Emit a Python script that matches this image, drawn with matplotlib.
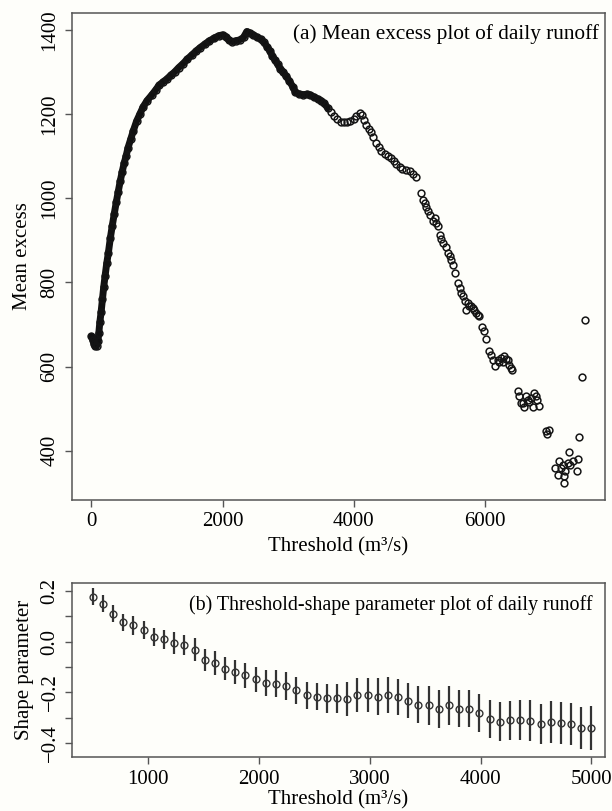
import numpy as np
import matplotlib
matplotlib.use("Agg")
import matplotlib.pyplot as plt

plt.rcParams['font.family'] = ['Liberation Serif', 'DejaVu Serif']

# (a) mean excess plot
thresh_a = [0, 20, 40, 60, 80, 100, 115, 130, 150, 170, 190, 210, 235, 260, 290,
            320, 350, 380, 410, 440, 470, 500, 530, 560, 600, 640, 690, 740, 790,
            850, 920, 980, 1030, 1090, 1150, 1210, 1270, 1330, 1400, 1460, 1530,
            1600, 1660, 1730, 1800, 1870, 1940, 2000, 2050, 2100, 2150, 2200, 2260,
            2320, 2370, 2420, 2470, 2530, 2580, 2630, 2680, 2720, 2760, 2800, 2840,
            2880, 2920, 2970, 3020, 3070, 3110, 3160, 3230, 3290, 3340, 3400, 3450,
            3500, 3550, 3600,
            3650, 3700, 3750, 3800, 3850, 3900, 3950, 4000, 4040, 4090, 4120, 4150,
            4190, 4230, 4260, 4300, 4340, 4380, 4420, 4470, 4520, 4570, 4610, 4650,
            4700, 4740, 4790, 4850, 4900, 4950,
            5029, 5053, 5080, 5104, 5130, 5155, 5206, 5231, 5260, 5282, 5307, 5330,
            5358, 5409, 5434, 5460, 5485, 5510, 5536, 5586, 5612, 5640, 5662, 5688,
            5713, 5738, 5760, 5789, 5815, 5840, 5865, 5890, 5916, 5957, 5982, 6018,
            6068, 6094, 6119, 6160, 6195, 6220, 6246, 6270, 6297, 6320, 6347, 6373,
            6398, 6413, 6499, 6525, 6550, 6575, 6601, 6627, 6650, 6677, 6700, 6728,
            6753, 6779, 6800, 6829, 6931, 6941, 6972, 7074, 7109, 7135, 7160, 7185,
            7206, 7210, 7226, 7262, 7277, 7300, 7338, 7399, 7419, 7429, 7480, 7520]
mean_excess = [672, 664, 654, 648, 649, 660, 680, 705, 730, 760, 790, 815, 845, 870, 905,
               935, 963, 990, 1015, 1040, 1062, 1083, 1100, 1120, 1140, 1160, 1183, 1200, 1217,
               1232, 1245, 1257, 1268, 1276, 1283, 1292, 1300, 1310, 1320, 1330, 1340,
               1350, 1358, 1366, 1374, 1380, 1386, 1388, 1384, 1375, 1372, 1374, 1376,
               1382, 1396, 1392, 1388, 1382, 1378, 1370, 1360, 1350, 1338, 1328, 1318,
               1308, 1300, 1290, 1278, 1265, 1252, 1248, 1246, 1247, 1245, 1240, 1236,
               1232, 1225, 1215,
               1205, 1195, 1188, 1182, 1180, 1181, 1183, 1188, 1195, 1202, 1198, 1185,
               1175, 1165, 1158, 1145, 1132, 1122, 1113, 1105, 1100, 1096, 1088, 1082,
               1075, 1070, 1066, 1065, 1058, 1050,
               1012, 996, 988, 980, 970, 961, 945, 953, 940, 933, 913, 903,
               893, 885, 870, 862, 854, 842, 822, 798, 787, 775, 767, 755,
               735, 751, 745, 743, 740, 735, 727, 722, 719, 695, 684, 665,
               636, 628, 616, 602, 616, 610, 620, 612, 624, 618, 616, 604,
               597, 591, 541, 529, 513, 513, 505, 529, 520, 517, 525, 505,
               537, 529, 520, 507, 446, 440, 450, 359, 343, 375, 359, 365,
               323, 339, 353, 371, 397, 365, 375, 353, 381, 433, 575, 711]

# (b) threshold - shape parameter plot
thresh_b = [500, 592, 684, 776, 867, 959, 1051, 1143, 1235, 1327, 1418, 1510, 1602,
            1694, 1786, 1878, 1969, 2061, 2153, 2245, 2337, 2429, 2520, 2612, 2704,
            2796, 2888, 2980, 3071, 3163, 3255, 3347, 3439, 3531, 3622, 3714, 3806,
            3898, 3990, 4082, 4173, 4265, 4357, 4449, 4541, 4633, 4724, 4816, 4908, 5000]
shape = [0.178, 0.150, 0.110, 0.077, 0.065, 0.046, 0.018, 0.010, -0.005, -0.014,
         -0.031, -0.071, -0.084, -0.106, -0.120, -0.133, -0.149, -0.162, -0.166, -0.176,
         -0.191, -0.212, -0.217, -0.224, -0.224, -0.227, -0.212, -0.210, -0.217, -0.210,
         -0.220, -0.233, -0.248, -0.251, -0.264, -0.251, -0.264, -0.265, -0.282, -0.306,
         -0.315, -0.310, -0.310, -0.311, -0.324, -0.318, -0.319, -0.324, -0.341, -0.341]
shape_ci = [0.033, 0.034, 0.033, 0.034, 0.038, 0.037, 0.036, 0.038, 0.042, 0.040,
            0.045, 0.044, 0.046, 0.047, 0.048, 0.050, 0.051, 0.052, 0.053, 0.055,
            0.053, 0.052, 0.054, 0.056, 0.057, 0.066, 0.067, 0.068, 0.072, 0.071,
            0.071, 0.069, 0.072, 0.077, 0.075, 0.076, 0.072, 0.073, 0.074, 0.075,
            0.076, 0.077, 0.078, 0.079, 0.078, 0.083, 0.083, 0.082, 0.084, 0.086]

bg = '#fefefa'
fs = 15
W, H = 612, 811
fig = plt.figure(figsize=(W / 100, H / 100), dpi=100, facecolor=bg)


def style(ax):
    ax.set_facecolor(bg)
    for s in ax.spines.values():
        s.set_color('#555555')
        s.set_linewidth(1.1)
    ax.tick_params(direction='out', length=5, width=1.0, color='#555555',
                   labelsize=fs, pad=4)
    for lab in ax.get_yticklabels():
        lab.set_rotation(90)
        lab.set_va('center')


# top panel
ax1 = fig.add_axes([72 / W, 1 - 500 / H, 533 / W, 487 / H])
xa = np.array(thresh_a)
ya = np.array(mean_excess)
dense = xa <= 3600
ax1.plot(xa[dense], ya[dense], color='#111111', lw=5.0, solid_capstyle='round', zorder=2)
ax1.plot(xa, ya, ls='none', marker='o', ms=4.9, mfc='none', mec='#151515', mew=1.1, zorder=3)
ax1.set_xlim(-294, 7829)
ax1.set_ylim(283, 1440)
ax1.set_xticks([0, 2000, 4000, 6000])
ax1.set_yticks([400, 600, 800, 1000, 1200, 1400])
style(ax1)
ax1.set_xlabel('Threshold (m³/s)', fontsize=fs, labelpad=4)
ax1.set_ylabel('Mean excess', fontsize=fs, labelpad=6)
ax1.text(0.988, 0.978, '(a) Mean excess plot of daily runoff', transform=ax1.transAxes,
         ha='right', va='top', fontsize=15.3)

# bottom panel
ax2 = fig.add_axes([72 / W, 1 - 757 / H, 533 / W, 174 / H])
ax2.errorbar(thresh_b, shape, yerr=shape_ci, fmt='o', ms=4.9, mfc='none', mec='#333333',
             mew=1.0, ecolor='#333333', elinewidth=1.6, capsize=0)
ax2.set_xlim(312, 5123)
ax2.set_ylim(-0.455, 0.2316)
ax2.set_xticks([1000, 2000, 3000, 4000, 5000])
yt = [-0.4, -0.3, -0.2, -0.1, 0.0, 0.1, 0.2]
ax2.set_yticks(yt)
ax2.set_yticklabels(['\u22120.4', '', '\u22120.2', '', '0.0', '', '0.2'])
style(ax2)
ax2.set_xlabel('Threshold (m³/s)', fontsize=fs, labelpad=1)
ax2.set_ylabel('Shape parameter', fontsize=fs, labelpad=5)
ax2.text(0.976, 0.93, '(b) Threshold-shape parameter plot of daily runoff',
         transform=ax2.transAxes, ha='right', va='top', fontsize=14.4)

fig.savefig('out.png', dpi=100, facecolor=bg)
